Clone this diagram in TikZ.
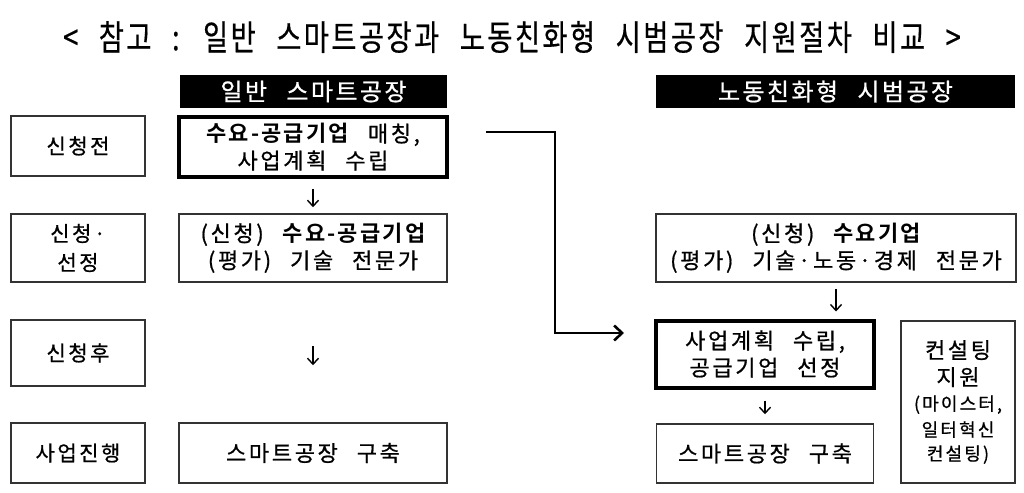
\documentclass[tikz,border=0pt]{standalone}
\usepackage{fontspec}
\setmainfont{Noto Sans CJK KR}
\newfontfamily\boxfont{Noto Sans CJK KR}[LetterSpace=12,WordSpace=2.5,FakeBold=0.8]
\newfontfamily\boxbold{Noto Sans CJK KR Bold}[LetterSpace=10,WordSpace=2.5]
\newfontfamily\titlefont{Noto Sans CJK KR}[FakeStretch=0.78,LetterSpace=7,WordSpace=2.4,FakeBold=0.4]
\newfontfamily\hdrfont{Noto Sans CJK KR}[LetterSpace=10,WordSpace=2.5,FakeBold=0.8]
\usetikzlibrary{arrows.meta,positioning,calc}
\tikzset{
  lab/.style={draw=black!80, line width=1.5pt, minimum width=134pt, inner sep=0pt,
    align=center, font=\boxfont\fontsize{21}{29}\selectfont},
  stepbox/.style={draw=black!80, line width=1.5pt, inner sep=0pt, align=center,
    font=\boxfont\fontsize{22}{27}\selectfont},
  thickbox/.style={stepbox, draw=black, line width=4pt},
  hdr/.style={fill=black, text=white, inner sep=0pt, minimum height=33pt,
    font=\hdrfont\fontsize{24}{26}\selectfont},
  dn/.style={-{Straight Barb[length=6pt,width=11pt]}, line width=1.4pt},
}

\begin{document}
\begin{tikzpicture}[x=1pt,y=-1pt]
\useasboundingbox (0,0) rectangle (1024,492);

\node[font=\titlefont\fontsize{35}{38}\selectfont] (title) at (512,37)
  {< 참고 : 일반 스마트공장과 노동친화형 시범공장 지원절차 비교 >};

\node[hdr, minimum width=267pt] (hdrL) at (313.5,91.5) {일반 스마트공장};
\node[hdr, minimum width=359pt] (hdrR) at (835.5,91.5) {노동친화형 시범공장};

% stage labels
\node[lab, minimum height=60pt] (lab1) at (78,146) {신청전};
\node[lab, minimum height=68pt] (lab2) at (78,248) {신청·\\선정};
\node[lab, minimum height=66pt] (lab3) at (78,353) {신청후};
\node[lab, minimum height=60pt] (lab4) at (78,453) {사업진행};

% general smart factory
\node[thickbox, minimum width=268pt, minimum height=60pt] (mid1) at (313,147)
  {{\boxbold 수요-공급기업} 매칭,\\사업계획 수립};
\node[stepbox, minimum width=268pt, minimum height=68pt] (mid2) at (313,248)
  {(신청) {\boxbold 수요-공급기업}\\(평가) 기술 전문가};
\node[stepbox, minimum width=268pt, minimum height=60pt] (mid4) at (313,453)
  {스마트공장 구축};

% labour friendly pilot factory
\node[stepbox, minimum width=360pt, minimum height=68pt] (right1) at (836,248)
  {(신청) {\boxbold 수요기업}\\(평가) 기술·노동·경제 전문가};
\node[thickbox, minimum width=218pt, minimum height=67pt] (right2) at (765,354)
  {사업계획 수립,\\공급기업 선정};
\node[stepbox, minimum width=217pt, minimum height=59pt] (right3) at (765,453.5)
  {스마트공장 구축};
\node[stepbox, minimum width=114pt, minimum height=162pt] (cons) at (958,402)
  {컨설팅\\지원\\[-2pt]{\fontsize{18}{27}\selectfont (마이스터,}\\[-1pt]
   {\fontsize{18}{24}\selectfont 일터혁신}\\[-3pt]{\fontsize{18}{24}\selectfont 컨설팅)}};

\draw[dn, shorten <=10pt, shorten >=6pt] (mid1.south) -- (mid2.north);
\draw[dn, shorten <=63pt, shorten >=57pt] (mid2.south) -- (mid4.north);
\draw[dn, shorten <=6pt, shorten >=7pt] (right1.south) -- (right1.south |- right2.north);
\draw[dn, shorten <=11pt, shorten >=9pt] (right2.south) -- (right3.north);

\coordinate (e1) at (486,132);
\coordinate (e2) at (624,333);
\draw[-{Straight Barb[length=8pt,width=15pt]}, line width=2.6pt] (e1) -- ++(69,0) |- (e2);

\end{tikzpicture}
\end{document}
